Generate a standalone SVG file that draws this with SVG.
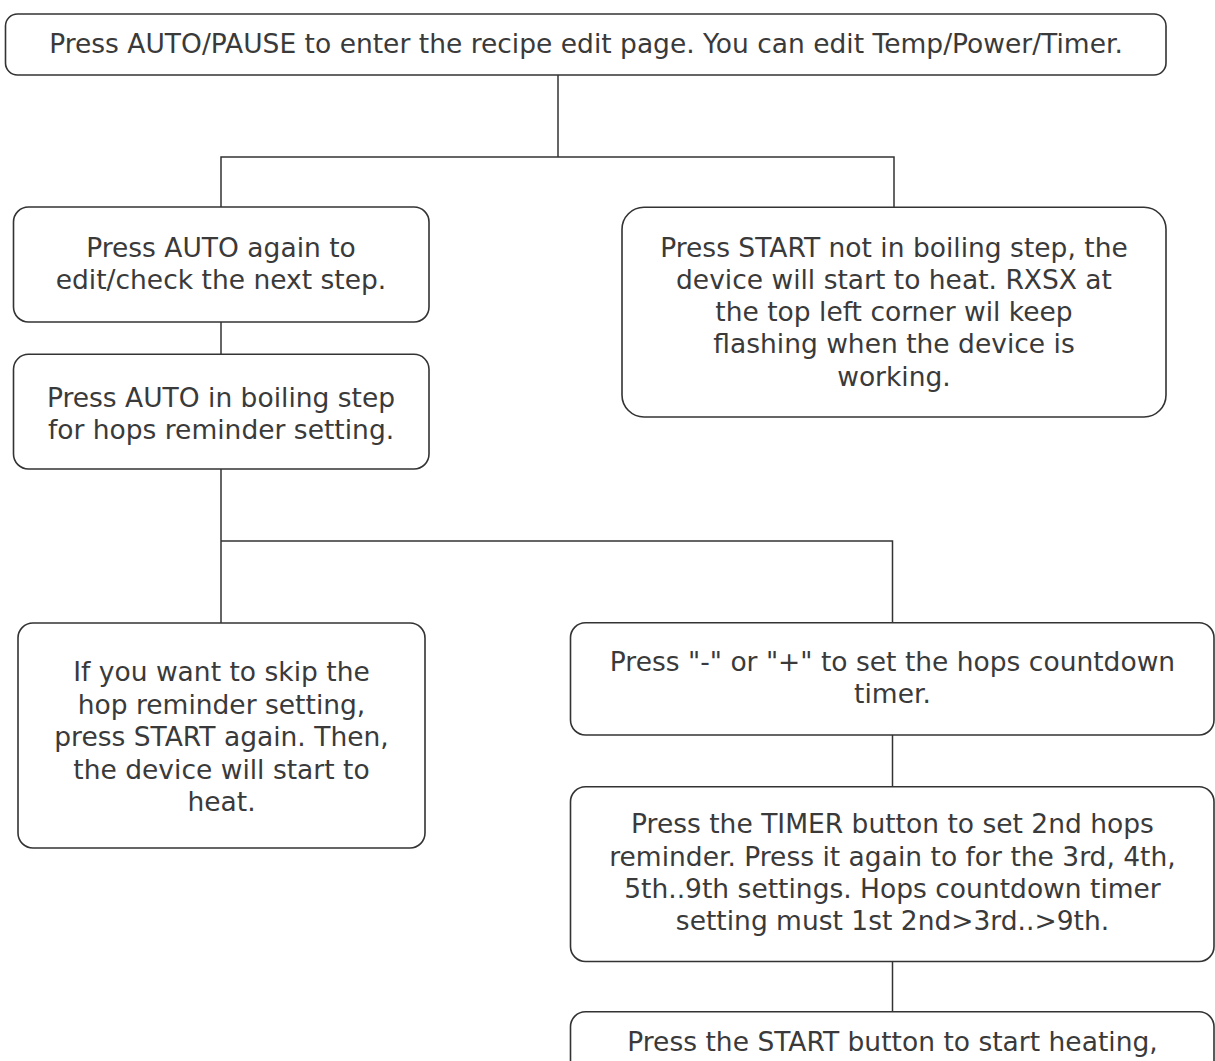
<svg xmlns="http://www.w3.org/2000/svg" width="1215" height="1061" viewBox="0 0 1215 1061">
<style>
.box{fill:#ffffff;stroke:#333333;stroke-width:1.6}
.wire{fill:none;stroke:#333333;stroke-width:1.5}
text{font-family:"DejaVu Sans","Liberation Sans",sans-serif;font-size:26.5px;fill:#3a3a3a;text-anchor:middle}
</style>
<rect width="1215" height="1061" fill="#ffffff"/>
<g id="connectors">
<path class="wire" d="M558 75 V157 M221 207 V157 H894 V207"/>
<path class="wire" d="M221 322 V354"/>
<path class="wire" d="M221 469 V623 M221 541 H892.5 V622.7"/>
<path class="wire" d="M892.5 735 V786.7"/>
<path class="wire" d="M892.5 961.5 V1011.7"/>
</g>
<g id="node-top">
<rect class="box" x="5.5" y="14" width="1160.5" height="61" rx="12"/>
<text x="586" y="53">Press AUTO/PAUSE to enter the recipe edit page. You can edit Temp/Power/Timer.</text>
</g>
<g id="node-auto-again">
<rect class="box" x="13.5" y="207" width="415.5" height="115" rx="15"/>
<text x="221" y="256.7">Press AUTO again to</text>
<text x="221" y="289">edit/check the next step.</text>
</g>
<g id="node-start-not-boiling">
<rect class="box" x="622" y="207.3" width="544" height="209.7" rx="22"/>
<text x="894" y="256.5">Press START not in boiling step, the</text>
<text x="894" y="288.8">device will start to heat. RXSX at</text>
<text x="894" y="321">the top left corner wil keep</text>
<text x="894" y="353.3">flashing when the device is</text>
<text x="894" y="385.6">working.</text>
</g>
<g id="node-auto-boiling">
<rect class="box" x="13.5" y="354.3" width="415.5" height="114.7" rx="15"/>
<text x="221" y="406.7">Press AUTO in boiling step</text>
<text x="221" y="438.5">for hops reminder setting.</text>
</g>
<g id="node-skip">
<rect class="box" x="18" y="623" width="407" height="225" rx="15"/>
<text x="221.5" y="681">If you want to skip the</text>
<text x="221.5" y="713.5">hop reminder setting,</text>
<text x="221.5" y="746">press START again. Then,</text>
<text x="221.5" y="778.5">the device will start to</text>
<text x="221.5" y="811">heat.</text>
</g>
<g id="node-set-timer">
<rect class="box" x="570.5" y="622.7" width="643.5" height="112.3" rx="15"/>
<text x="892.5" y="670.5">Press "-" or "+" to set the hops countdown</text>
<text x="892.5" y="703">timer.</text>
</g>
<g id="node-timer-button">
<rect class="box" x="570.5" y="786.7" width="643.5" height="174.8" rx="15"/>
<text x="892.5" y="833">Press the TIMER button to set 2nd hops</text>
<text x="892.5" y="865.5">reminder. Press it again to for the 3rd, 4th,</text>
<text x="892.5" y="898">5th..9th settings. Hops countdown timer</text>
<text x="892.5" y="930">setting must 1st 2nd&gt;3rd..&gt;9th.</text>
</g>
<g id="node-start-heating">
<rect class="box" x="570.5" y="1011.7" width="643.5" height="80" rx="15"/>
<text x="892.5" y="1050.5">Press the START button to start heating,</text>
</g>
</svg>
